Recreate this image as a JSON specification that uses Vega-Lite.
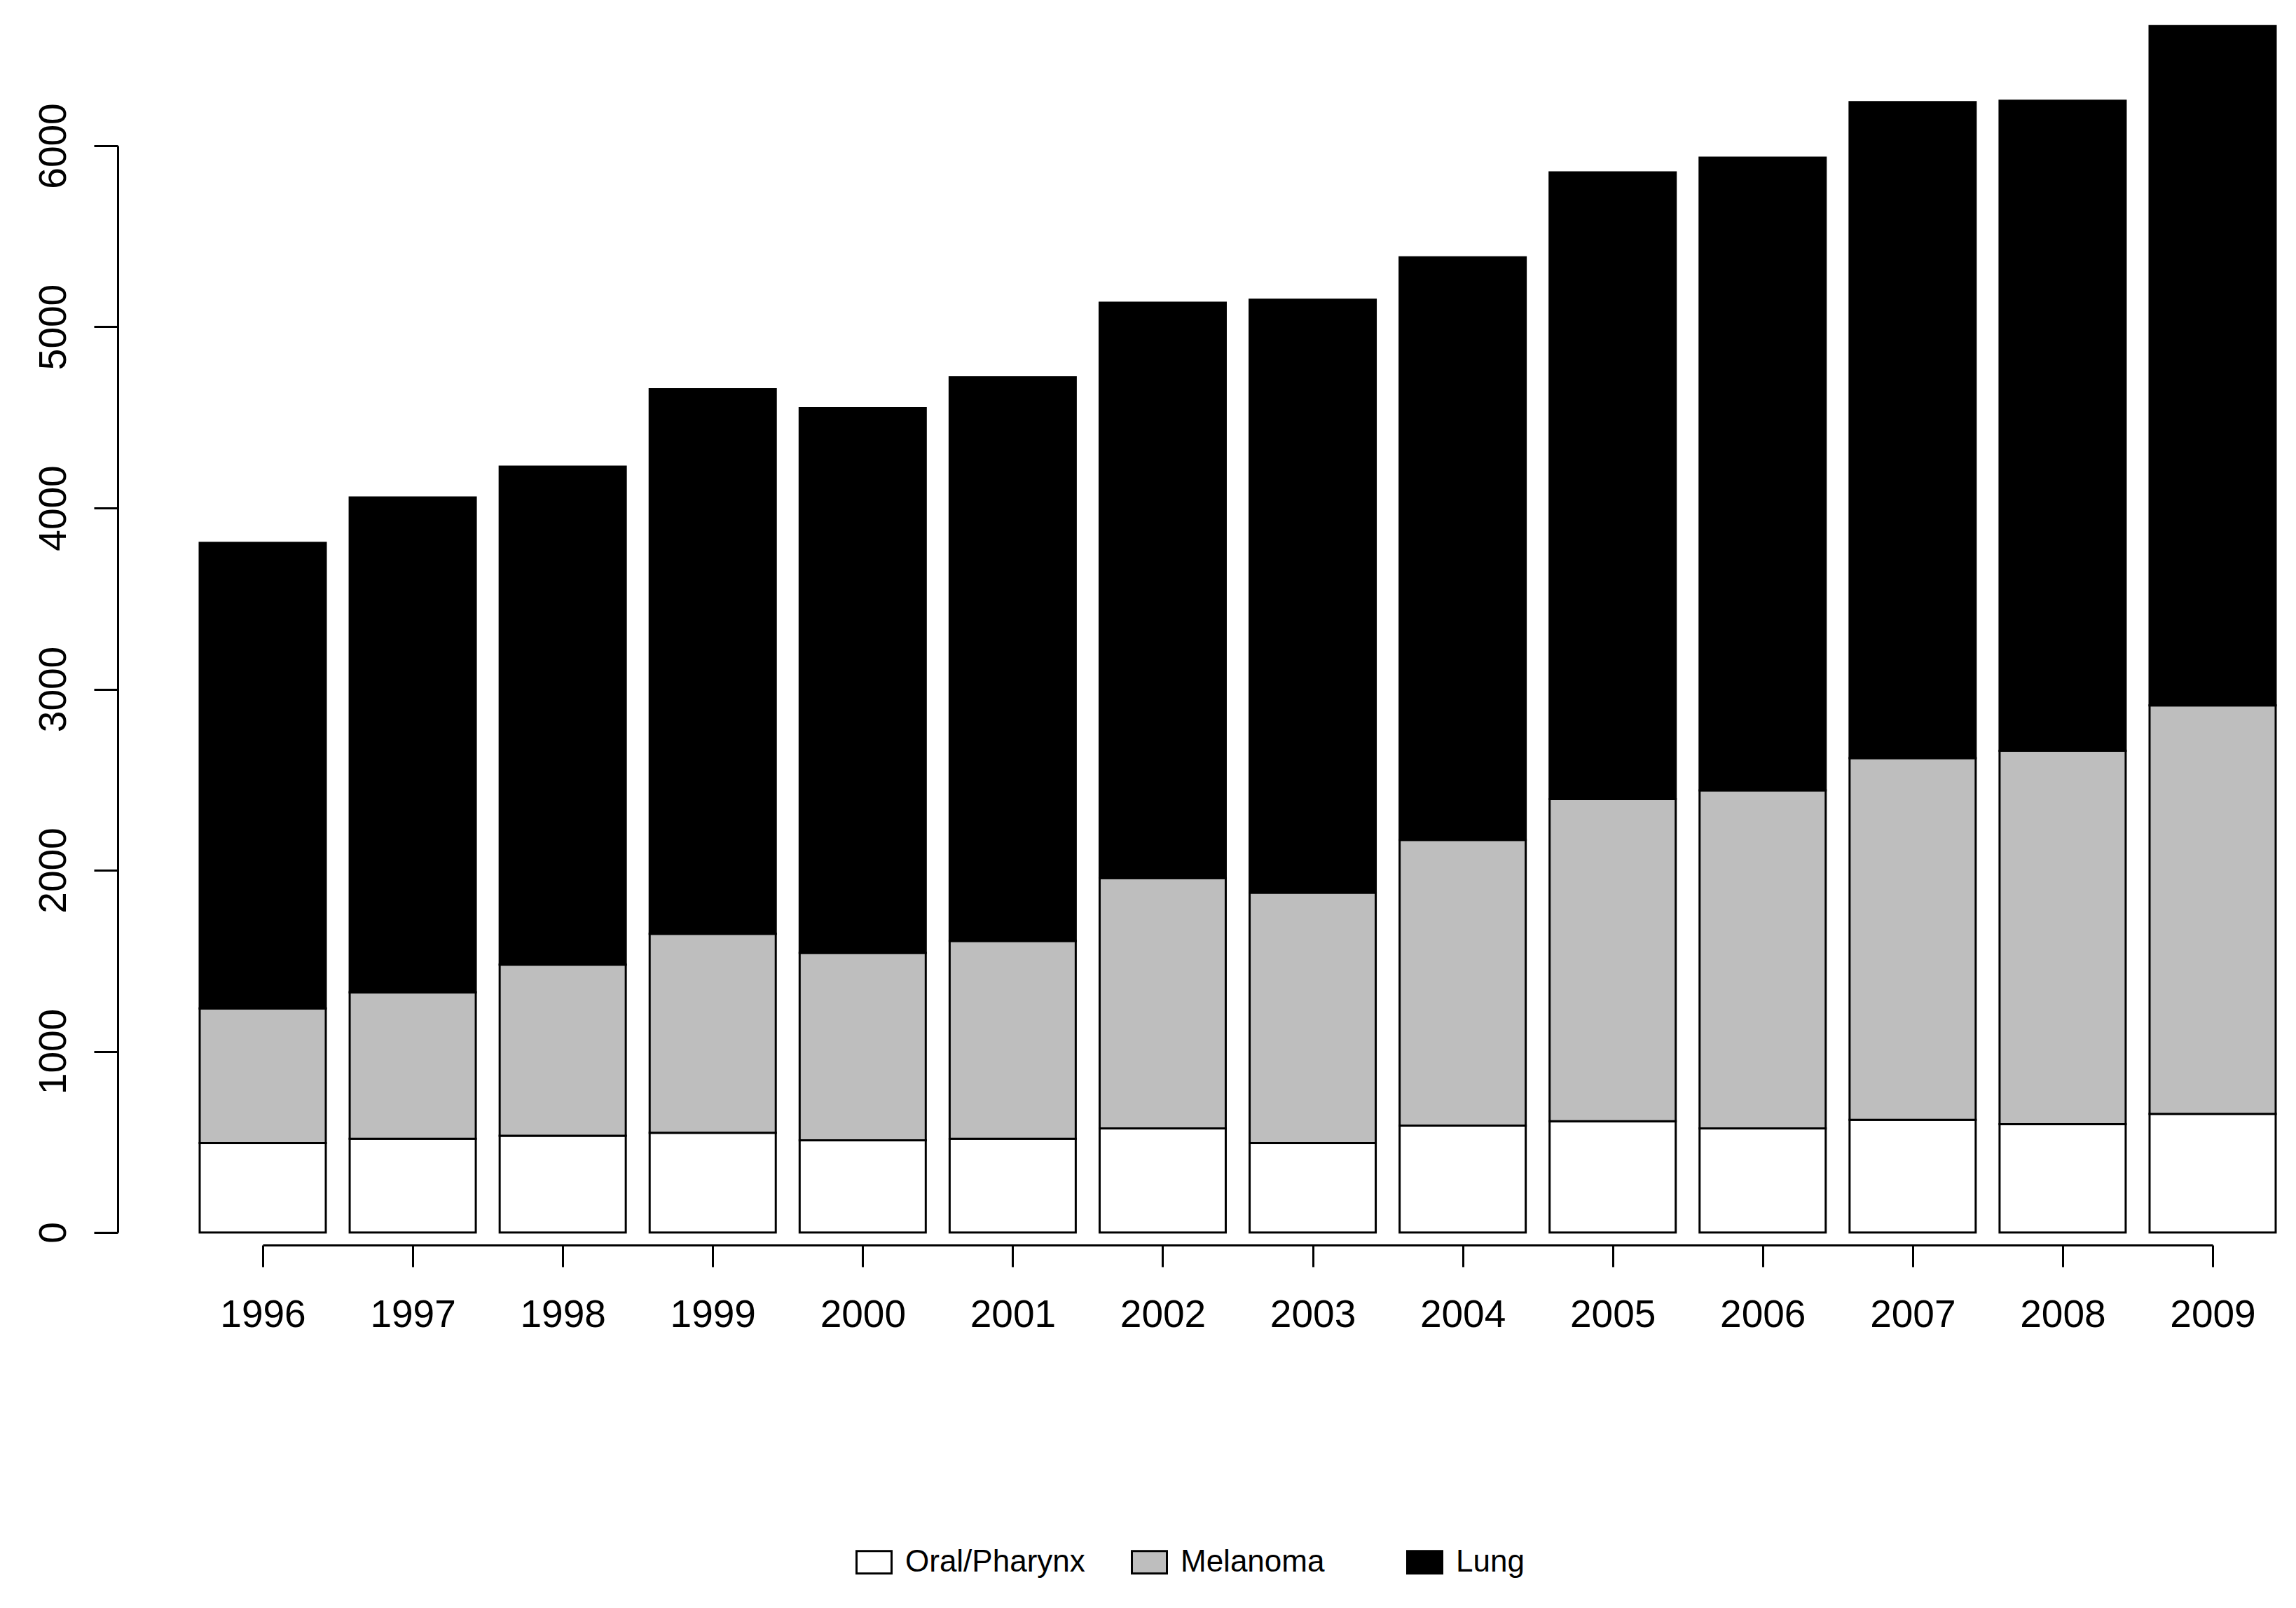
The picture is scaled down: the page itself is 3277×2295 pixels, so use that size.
{
  "$schema": "https://vega.github.io/schema/vega-lite/v6.json",
  "autosize": {"type": "none"},
  "width": 2783,
  "height": 1551,
  "padding": {"left": 375, "top": 208, "right": 119, "bottom": 536},
  "background": "white",
  "config": {
    "view": {"stroke": null},
    "axis": {
      "domainColor": "black",
      "domainWidth": 3,
      "tickColor": "black",
      "tickWidth": 3,
      "labelColor": "black",
      "labelFont": "Liberation Sans",
      "labelFontSize": 55,
      "grid": false,
      "title": null
    }
  },
  "data": {
    "values": [
      {"year": 1996, "cancer": "Oral/Pharynx", "count": 493},
      {"year": 1996, "cancer": "Melanoma", "count": 744},
      {"year": 1996, "cancer": "Lung", "count": 2571},
      {"year": 1997, "cancer": "Oral/Pharynx", "count": 517},
      {"year": 1997, "cancer": "Melanoma", "count": 809},
      {"year": 1997, "cancer": "Lung", "count": 2732},
      {"year": 1998, "cancer": "Oral/Pharynx", "count": 534},
      {"year": 1998, "cancer": "Melanoma", "count": 945},
      {"year": 1998, "cancer": "Lung", "count": 2749},
      {"year": 1999, "cancer": "Oral/Pharynx", "count": 550},
      {"year": 1999, "cancer": "Melanoma", "count": 1099},
      {"year": 1999, "cancer": "Lung", "count": 3007},
      {"year": 2000, "cancer": "Oral/Pharynx", "count": 509},
      {"year": 2000, "cancer": "Melanoma", "count": 1035},
      {"year": 2000, "cancer": "Lung", "count": 3007},
      {"year": 2001, "cancer": "Oral/Pharynx", "count": 517},
      {"year": 2001, "cancer": "Melanoma", "count": 1092},
      {"year": 2001, "cancer": "Lung", "count": 3112},
      {"year": 2002, "cancer": "Oral/Pharynx", "count": 574},
      {"year": 2002, "cancer": "Melanoma", "count": 1382},
      {"year": 2002, "cancer": "Lung", "count": 3177},
      {"year": 2003, "cancer": "Oral/Pharynx", "count": 493},
      {"year": 2003, "cancer": "Melanoma", "count": 1383},
      {"year": 2003, "cancer": "Lung", "count": 3274},
      {"year": 2004, "cancer": "Oral/Pharynx", "count": 590},
      {"year": 2004, "cancer": "Melanoma", "count": 1577},
      {"year": 2004, "cancer": "Lung", "count": 3217},
      {"year": 2005, "cancer": "Oral/Pharynx", "count": 614},
      {"year": 2005, "cancer": "Melanoma", "count": 1779},
      {"year": 2005, "cancer": "Lung", "count": 3460},
      {"year": 2006, "cancer": "Oral/Pharynx", "count": 574},
      {"year": 2006, "cancer": "Melanoma", "count": 1867},
      {"year": 2006, "cancer": "Lung", "count": 3493},
      {"year": 2007, "cancer": "Oral/Pharynx", "count": 622},
      {"year": 2007, "cancer": "Melanoma", "count": 1997},
      {"year": 2007, "cancer": "Lung", "count": 3622},
      {"year": 2008, "cancer": "Oral/Pharynx", "count": 598},
      {"year": 2008, "cancer": "Melanoma", "count": 2062},
      {"year": 2008, "cancer": "Lung", "count": 3589},
      {"year": 2009, "cancer": "Oral/Pharynx", "count": 655},
      {"year": 2009, "cancer": "Melanoma", "count": 2255},
      {"year": 2009, "cancer": "Lung", "count": 3751}
    ]
  },
  "mark": {"type": "bar", "width": 180, "stroke": "black", "strokeWidth": 3},
  "encoding": {
    "x": {
      "field": "year",
      "type": "ordinal",
      "scale": {"type": "point", "padding": 0},
      "axis": {
        "labelAngle": 0,
        "offset": 18,
        "tickSize": 31,
        "labelPadding": 42,
        "labelBaseline": "top"
      }
    },
    "y": {
      "field": "count",
      "type": "quantitative",
      "stack": "zero",
      "scale": {"domain": [0, 6000], "nice": false, "zero": true},
      "axis": {
        "values": [0, 1000, 2000, 3000, 4000, 5000, 6000],
        "format": "d",
        "offset": 207,
        "tickSize": 34,
        "labelAngle": -90,
        "labelAlign": "center",
        "labelBaseline": "alphabetic",
        "labelPadding": 41
      }
    },
    "order": {"field": "cancer", "sort": "descending"},
    "color": {
      "field": "cancer",
      "type": "nominal",
      "scale": {"domain": ["Oral/Pharynx", "Melanoma", "Lung"], "range": ["#FFFFFF", "#BEBEBE", "#000000"]},
      "legend": {
        "title": null,
        "orient": "none",
        "legendX": 846,
        "legendY": 1995,
        "direction": "horizontal",
        "columns": 3,
        "gridAlign": "all",
        "columnPadding": 60,
        "padding": 0,
        "symbolType": "M-1,-0.64H1V0.64H-1Z",
        "symbolSize": 2500,
        "symbolStrokeColor": "black",
        "symbolStrokeWidth": 3,
        "symbolOpacity": 1,
        "labelFont": "Liberation Sans",
        "labelFontSize": 44,
        "labelColor": "black",
        "labelOffset": 18,
        "labelLimit": 600
      }
    }
  }
}
